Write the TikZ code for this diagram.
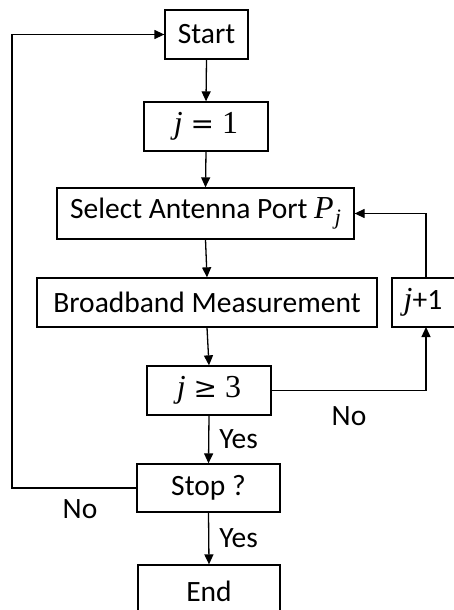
\documentclass[tikz,border=0pt]{standalone}
\usepackage{fontspec}
\setmainfont{Carlito}
\newfontfamily\mfont{Liberation Serif}
\newfontfamily\opfont{DejaVu Serif}
\usetikzlibrary{arrows.meta}
\begin{document}
\begin{tikzpicture}[x=1pt,y=-1pt,
  box/.style={draw,line width=1.3pt,inner sep=0pt,font=\fontsize{29.5}{32}\selectfont},
  arr/.style={-{Triangle[length=10pt,width=9pt]},line width=1.3pt},
  lbl/.style={font=\fontsize{29.5}{32}\selectfont,inner sep=0pt}]
\useasboundingbox (0,0) rectangle (454,610);
\node[box,minimum width=83pt,minimum height=49pt] (start) at (206.5,34.5) {Start};
\node[box,minimum width=124pt,minimum height=49pt] (j1) at (206,126.5) {{\mfont\fontsize{32}{32}\selectfont\itshape j\upshape\ {\opfont\fontsize{28}{32}\selectfont =}\ 1}};
\node[box,minimum width=297pt,minimum height=51pt] (sel) at (205.5,213.5) {Select Antenna Port {\mfont\fontsize{32}{32}\selectfont\itshape P\kern1pt\raisebox{-6pt}{\fontsize{22}{22}\selectfont j}}};
\node[box,minimum width=70pt,minimum height=49pt] (jp) at (427,302.5) {\hspace*{-8pt}{\mfont\fontsize{32}{32}\selectfont\itshape j}+1};
\node[box,minimum width=340pt,minimum height=49pt] (bb) at (207,302.5) {Broadband Measurement};
\node[box,minimum width=124pt,minimum height=49pt] (j3) at (209,390.5) {{\mfont\fontsize{32}{32}\selectfont\itshape j\upshape\ {\opfont\fontsize{28}{32}\selectfont ≥}\ 3}};
\node[box,minimum width=143pt,minimum height=48pt] (stop) at (208.5,488) {Stop ?};
\node[box,minimum width=142pt,minimum height=52pt] (end) at (209,591) {End};
\draw[arr] (start.south) -- (j1.north);
\draw[arr] (j1.south) -- (sel.north);
\draw[arr] (sel.south) -- (bb.north);
\draw[arr] (bb.south) -- (j3.north);
\draw[arr] (j3.south) -- node[lbl,right=10pt,pos=0.5]{Yes} (stop.north);
\draw[arr] (stop.south) -- node[lbl,right=10pt,pos=0.5]{Yes} (end.north);
\coordinate (jpb) at (426,327);
\draw[arr] (j3.east) -| (jpb);
\coordinate (jpt) at (426,278);
\draw[arr] (jpt) |- (sel.east);
\coordinate (lc) at (12,488);
\draw[arr] (stop.west) -- (lc) |- (start.west);
\node[lbl] (no1) at (349,416) {No};
\node[lbl] (no2) at (80,509) {No};
\end{tikzpicture}
\end{document}
